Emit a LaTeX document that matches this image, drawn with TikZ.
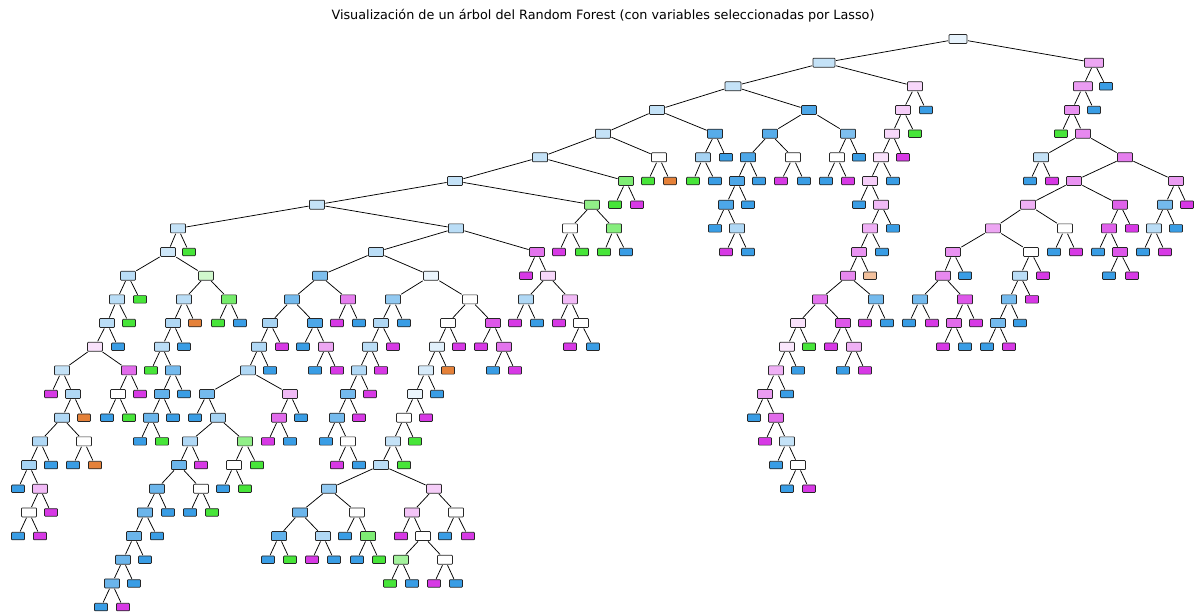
\documentclass[tikz,border=0pt]{standalone}
\usepackage{fontspec}
\setmainfont{DejaVu Sans}
\definecolor{cOr}{HTML}{E58139}
\definecolor{cGr}{HTML}{47E539}
\definecolor{cBl}{HTML}{399DE5}
\definecolor{cMg}{HTML}{D739E5}
% internal node: [width]{depth}{x}{fill}
\newcommand\innode[4][15]{\node[inn, minimum width=#1pt, fill=#4] (n#2-#3) at (#3,{39+23.67*#2}) {};}
% leaf node: {depth}{x}{fill}
\newcommand\leafnode[3]{\node[lf, fill=#3] (n#1-#2) at (#2,{39+23.67*#1}) {};}
% parent with its two children
\newcommand\branch[3]{\draw[edge] (#1) -- (#2); \draw[edge] (#1) -- (#3);}
\begin{document}
\begin{tikzpicture}[x=1pt,y=-1pt,
  inn/.style={draw=black!85, line width=0.7pt, rounded corners=0.8pt, minimum height=9pt, inner sep=0pt},
  lf/.style={draw=black!85, line width=0.7pt, rounded corners=0.8pt, minimum width=13pt, minimum height=7.5pt, inner sep=0pt},
  edge/.style={draw=black, line width=0.75pt, shorten >=0.6pt, shorten <=0.6pt}]
\useasboundingbox (0,0) rectangle (1197,612);
\fill[white] (0,0) rectangle (1197,612);
\node[font=\fontsize{12.8}{14}\selectfont] (title) at (603,16) {Visualización de un árbol del Random Forest (con variables seleccionadas por Lasso)};
% depth 0-4
\innode[18]{0}{958}{cBl!12}
\innode[22]{1}{824}{cBl!30} \innode[19]{1}{1094}{cMg!45}
\innode[16]{2}{733}{cBl!30} \innode{2}{915}{cMg!20} \innode[19]{2}{1083}{cMg!50} \leafnode{2}{1106}{cBl}
\innode{3}{657}{cBl!30} \innode{3}{809}{cBl!90} \innode{3}{903}{cMg!25} \leafnode{3}{926}{cBl} \innode{3}{1072}{cMg!55} \leafnode{3}{1094}{cBl}
\innode{4}{603}{cBl!30} \innode{4}{715}{cBl!85} \innode{4}{770}{cBl!85} \innode{4}{848}{cBl!65} \innode{4}{892}{cMg!20} \leafnode{4}{915}{cGr} \leafnode{4}{1061}{cGr} \innode{4}{1083}{cMg!60}
% depth 5
\innode{5}{540}{cBl!30} \innode{5}{659}{white} \innode{5}{703}{cBl!45} \leafnode{5}{726}{cBl} \innode{5}{748}{cBl!90} \innode{5}{793}{white} \innode{5}{837}{white} \leafnode{5}{859}{cBl} \innode{5}{881}{cMg!15} \leafnode{5}{903}{cMg} \innode{5}{1041}{cBl!30} \innode{5}{1125}{cMg!65}
% depth 6
\innode{6}{455}{cBl!30} \innode{6}{626}{cGr!70} \leafnode{6}{648}{cGr} \leafnode{6}{670}{cOr} \leafnode{6}{693}{cGr} \leafnode{6}{715}{cBl} \innode{6}{737}{cBl!90} \leafnode{6}{759}{cBl} \leafnode{6}{781}{cMg} \leafnode{6}{804}{cBl} \leafnode{6}{826}{cBl} \leafnode{6}{848}{cMg} \innode{6}{870}{cMg!25} \leafnode{6}{893}{cBl} \leafnode{6}{1030}{cBl} \leafnode{6}{1052}{cMg} \innode{6}{1074}{cMg!55} \innode{6}{1176}{cMg!50}
% depth 7
\innode{7}{317}{cBl!30} \innode{7}{592}{cGr!60} \leafnode{7}{615}{cGr} \leafnode{7}{637}{cMg} \innode{7}{726}{cBl!90} \leafnode{7}{748}{cBl} \leafnode{7}{859}{cBl} \innode{7}{881}{cMg!35} \innode{7}{1028}{cMg!40} \innode{7}{1120}{cMg!80} \innode{7}{1165}{cBl!70} \leafnode{7}{1187}{cMg}
% depth 8
\innode{8}{178}{cBl!30} \innode{8}{456}{cBl!35} \innode{8}{570}{white} \innode{8}{614}{cGr!65} \leafnode{8}{715}{cBl} \innode{8}{737}{cBl!40} \innode{8}{870}{cMg!40} \leafnode{8}{893}{cBl} \innode{8}{993}{cMg!45} \innode{8}{1065}{white} \innode{8}{1109}{cMg!80} \leafnode{8}{1132}{cMg} \innode{8}{1154}{cBl!35} \leafnode{8}{1176}{cBl}
% depth 9
\innode{9}{168}{cBl!25} \leafnode{9}{189}{cGr} \innode{9}{376}{cBl!35} \innode{9}{537}{cMg!70} \leafnode{9}{559}{cMg} \leafnode{9}{582}{cGr} \leafnode{9}{604}{cGr} \leafnode{9}{626}{cBl} \leafnode{9}{726}{cMg} \leafnode{9}{748}{cBl} \innode{9}{859}{cMg!55} \leafnode{9}{882}{cBl} \innode{9}{953}{cMg!55} \innode{9}{1031}{white} \leafnode{9}{1054}{cBl} \leafnode{9}{1076}{cMg} \leafnode{9}{1098}{cBl} \innode{9}{1120}{cMg!85} \leafnode{9}{1143}{cBl} \leafnode{9}{1165}{cMg}
% depth 10
\innode{10}{128}{cBl!35} \innode{10}{206}{cGr!25} \innode{10}{320}{cBl!65} \innode{10}{431}{cBl!10} \leafnode{10}{526}{cMg} \innode{10}{548}{cMg!20} \innode{10}{848}{cMg!60} \leafnode{10}{870}{cOr!50} \innode{10}{943}{cMg!60} \leafnode{10}{965}{cBl} \innode{10}{1020}{cBl!35} \leafnode{10}{1043}{cMg} \leafnode{10}{1109}{cBl} \leafnode{10}{1132}{cMg}
% depth 11
\innode{11}{117}{cBl!35} \leafnode{11}{140}{cGr} \innode{11}{184}{cBl!35} \innode{11}{229}{cGr!75} \innode{11}{292}{cBl!70} \innode{11}{348}{cMg!65} \innode{11}{393}{cBl!55} \innode{11}{470}{white} \innode{11}{526}{cBl!40} \innode{11}{570}{cMg!35} \innode{11}{820}{cMg!70} \innode{11}{876}{cBl!70} \innode{11}{920}{cBl!70} \innode{11}{965}{cMg!85} \innode{11}{1009}{cBl!70} \leafnode{11}{1032}{cMg}
% depth 12
\innode{12}{107}{cBl!35} \leafnode{12}{129}{cGr} \innode{12}{173}{cBl!40} \leafnode{12}{195}{cOr} \leafnode{12}{218}{cGr} \leafnode{12}{240}{cBl} \innode{12}{270}{cBl!45} \innode{12}{315}{cBl!90} \leafnode{12}{337}{cMg} \leafnode{12}{359}{cBl} \innode{12}{381}{cBl!40} \leafnode{12}{404}{cBl} \innode{12}{448}{white} \innode{12}{493}{cMg!85} \leafnode{12}{515}{cMg} \leafnode{12}{537}{cBl} \leafnode{12}{559}{cMg} \innode{12}{581}{white} \innode{12}{798}{cMg!15} \innode{12}{843}{cMg!85} \leafnode{12}{865}{cMg} \leafnode{12}{887}{cBl} \leafnode{12}{909}{cBl} \leafnode{12}{932}{cMg} \innode{12}{954}{cMg!75} \leafnode{12}{976}{cMg} \innode{12}{998}{cBl!70} \leafnode{12}{1020}{cBl}
% depth 13
\innode{13}{95}{cMg!15} \leafnode{13}{118}{cBl} \innode{13}{162}{cBl!35} \leafnode{13}{184}{cBl} \innode{13}{259}{cBl!40} \leafnode{13}{282}{cMg} \leafnode{13}{303}{cBl} \innode{13}{326}{cMg!45} \innode{13}{370}{cBl!35} \leafnode{13}{393}{cMg} \innode{13}{437}{cBl!15} \leafnode{13}{459}{cMg} \leafnode{13}{481}{cMg} \innode{13}{504}{cMg!70} \leafnode{13}{570}{cMg} \leafnode{13}{593}{cBl} \innode{13}{787}{cMg!12} \leafnode{13}{809}{cGr} \leafnode{13}{831}{cMg} \innode{13}{854}{cMg!40} \leafnode{13}{943}{cMg} \leafnode{13}{965}{cBl} \leafnode{13}{987}{cBl} \leafnode{13}{1009}{cMg}
% depth 14
\innode{14}{62}{cBl!30} \innode{14}{129}{cMg!75} \leafnode{14}{151}{cGr} \innode{14}{173}{cBl!70} \innode{14}{248}{cBl!40} \leafnode{14}{270}{cBl} \leafnode{14}{315}{cBl} \leafnode{14}{337}{cMg} \innode{14}{359}{cBl!40} \leafnode{14}{381}{cMg} \innode{14}{426}{cBl!20} \leafnode{14}{448}{cOr} \leafnode{14}{493}{cBl} \leafnode{14}{515}{cMg} \innode{14}{776}{cMg!40} \leafnode{14}{798}{cBl} \leafnode{14}{843}{cBl} \leafnode{14}{865}{cMg}
% depth 15
\leafnode{15}{51}{cMg} \innode{15}{73}{cBl!40} \innode{15}{118}{white} \leafnode{15}{140}{cMg} \innode{15}{162}{cBl!80} \leafnode{15}{184}{cBl} \innode{15}{207}{cBl!70} \innode{15}{290}{cMg!35} \innode{15}{348}{cBl!70} \leafnode{15}{370}{cMg} \innode{15}{415}{cBl!10} \leafnode{15}{437}{cBl} \innode{15}{765}{cMg!50} \leafnode{15}{787}{cBl}
% depth 16
\innode{16}{62}{cBl!40} \leafnode{16}{84}{cOr} \leafnode{16}{107}{cBl} \leafnode{16}{129}{cGr} \innode{16}{151}{cBl!75} \leafnode{16}{173}{cBl} \leafnode{16}{195}{cBl} \innode{16}{218}{cBl!45} \innode{16}{279}{cMg!75} \leafnode{16}{301}{cBl} \innode{16}{337}{cBl!70} \leafnode{16}{359}{cMg} \innode{16}{404}{white} \leafnode{16}{426}{cMg} \leafnode{16}{754}{cBl} \innode{16}{776}{cMg!75}
% depth 17
\innode{17}{40}{cBl!40} \innode{17}{84}{white} \leafnode{17}{140}{cBl} \leafnode{17}{162}{cGr} \innode{17}{190}{cBl!40} \innode{17}{245}{cGr!60} \leafnode{17}{268}{cMg} \leafnode{17}{290}{cBl} \leafnode{17}{326}{cBl} \innode{17}{348}{white} \innode{17}{393}{cBl!30} \leafnode{17}{415}{cGr} \leafnode{17}{765}{cMg} \innode{17}{787}{cBl!30}
% depth 18
\innode{18}{29}{cBl!45} \leafnode{18}{51}{cBl} \leafnode{18}{73}{cBl} \leafnode{18}{95}{cOr} \innode{18}{179}{cBl!75} \leafnode{18}{201}{cMg} \innode{18}{234}{white} \leafnode{18}{257}{cGr} \leafnode{18}{337}{cMg} \leafnode{18}{359}{cBl} \innode{18}{381}{cBl!35} \leafnode{18}{404}{cGr} \leafnode{18}{776}{cBl} \innode{18}{798}{white}
% depth 19
\leafnode{19}{18}{cBl} \innode{19}{40}{cMg!35} \innode{19}{157}{cBl!75} \innode{19}{201}{white} \leafnode{19}{223}{cBl} \leafnode{19}{245}{cGr} \innode{19}{329}{cBl!55} \innode{19}{434}{cMg!25} \leafnode{19}{787}{cBl} \leafnode{19}{809}{cMg}
% depth 20
\innode{20}{29}{white} \leafnode{20}{51}{cMg} \innode{20}{145}{cBl!75} \leafnode{20}{168}{cBl} \leafnode{20}{190}{cBl} \leafnode{20}{212}{cGr} \innode{20}{300}{cBl!75} \innode{20}{357}{white} \innode{20}{412}{cMg!30} \innode{20}{456}{white}
% depth 21
\leafnode{21}{18}{cBl} \leafnode{21}{40}{cMg} \innode{21}{134}{cBl!75} \leafnode{21}{157}{cBl} \innode{21}{279}{cBl!80} \innode{21}{323}{cBl!40} \leafnode{21}{345}{cBl} \innode{21}{368}{cGr!70} \leafnode{21}{401}{cMg} \innode{21}{423}{white} \leafnode{21}{445}{cBl} \leafnode{21}{468}{cMg}
% depth 22
\innode{22}{123}{cBl!75} \leafnode{22}{145}{cBl} \leafnode{22}{268}{cBl} \leafnode{22}{290}{cGr} \leafnode{22}{312}{cMg} \leafnode{22}{334}{cBl} \leafnode{22}{357}{cBl} \leafnode{22}{379}{cGr} \innode{22}{401}{cGr!50} \innode{22}{445}{white}
% depth 23-24
\innode{23}{112}{cBl!75} \leafnode{23}{134}{cBl} \leafnode{23}{390}{cGr} \leafnode{23}{412}{cBl} \leafnode{23}{434}{cMg} \leafnode{23}{456}{cBl}
\leafnode{24}{101}{cBl} \leafnode{24}{123}{cMg}
% connectors
\branch{n0-958}{n1-824}{n1-1094}
\branch{n1-824}{n2-733}{n2-915}
\branch{n1-1094}{n2-1083}{n2-1106}
\branch{n2-733}{n3-657}{n3-809}
\branch{n2-915}{n3-903}{n3-926}
\branch{n2-1083}{n3-1072}{n3-1094}
\branch{n3-657}{n4-603}{n4-715}
\branch{n3-809}{n4-770}{n4-848}
\branch{n3-903}{n4-892}{n4-915}
\branch{n3-1072}{n4-1061}{n4-1083}
\branch{n4-603}{n5-540}{n5-659}
\branch{n4-715}{n5-703}{n5-726}
\branch{n4-770}{n5-748}{n5-793}
\branch{n4-848}{n5-837}{n5-859}
\branch{n4-892}{n5-881}{n5-903}
\branch{n4-1083}{n5-1041}{n5-1125}
\branch{n5-540}{n6-455}{n6-626}
\branch{n5-659}{n6-648}{n6-670}
\branch{n5-703}{n6-693}{n6-715}
\branch{n5-748}{n6-737}{n6-759}
\branch{n5-793}{n6-781}{n6-804}
\branch{n5-837}{n6-826}{n6-848}
\branch{n5-881}{n6-870}{n6-893}
\branch{n5-1041}{n6-1030}{n6-1052}
\branch{n5-1125}{n6-1074}{n6-1176}
\branch{n6-455}{n7-317}{n7-592}
\branch{n6-626}{n7-615}{n7-637}
\branch{n6-737}{n7-726}{n7-748}
\branch{n6-870}{n7-859}{n7-881}
\branch{n6-1074}{n7-1028}{n7-1120}
\branch{n6-1176}{n7-1165}{n7-1187}
\branch{n7-317}{n8-178}{n8-456}
\branch{n7-592}{n8-570}{n8-614}
\branch{n7-726}{n8-715}{n8-737}
\branch{n7-881}{n8-870}{n8-893}
\branch{n7-1028}{n8-993}{n8-1065}
\branch{n7-1120}{n8-1109}{n8-1132}
\branch{n7-1165}{n8-1154}{n8-1176}
\branch{n8-178}{n9-168}{n9-189}
\branch{n8-456}{n9-376}{n9-537}
\branch{n8-570}{n9-559}{n9-582}
\branch{n8-614}{n9-604}{n9-626}
\branch{n8-737}{n9-726}{n9-748}
\branch{n8-870}{n9-859}{n9-882}
\branch{n8-993}{n9-953}{n9-1031}
\branch{n8-1065}{n9-1054}{n9-1076}
\branch{n8-1109}{n9-1098}{n9-1120}
\branch{n8-1154}{n9-1143}{n9-1165}
\branch{n9-168}{n10-128}{n10-206}
\branch{n9-376}{n10-320}{n10-431}
\branch{n9-537}{n10-526}{n10-548}
\branch{n9-859}{n10-848}{n10-870}
\branch{n9-953}{n10-943}{n10-965}
\branch{n9-1031}{n10-1020}{n10-1043}
\branch{n9-1120}{n10-1109}{n10-1132}
\branch{n10-128}{n11-117}{n11-140}
\branch{n10-206}{n11-184}{n11-229}
\branch{n10-320}{n11-292}{n11-348}
\branch{n10-431}{n11-393}{n11-470}
\branch{n10-548}{n11-526}{n11-570}
\branch{n10-848}{n11-820}{n11-876}
\branch{n10-943}{n11-920}{n11-965}
\branch{n10-1020}{n11-1009}{n11-1032}
\branch{n11-117}{n12-107}{n12-129}
\branch{n11-184}{n12-173}{n12-195}
\branch{n11-229}{n12-218}{n12-240}
\branch{n11-292}{n12-270}{n12-315}
\branch{n11-348}{n12-337}{n12-359}
\branch{n11-393}{n12-381}{n12-404}
\branch{n11-470}{n12-448}{n12-493}
\branch{n11-526}{n12-515}{n12-537}
\branch{n11-570}{n12-559}{n12-581}
\branch{n11-820}{n12-798}{n12-843}
\branch{n11-876}{n12-865}{n12-887}
\branch{n11-920}{n12-909}{n12-932}
\branch{n11-965}{n12-954}{n12-976}
\branch{n11-1009}{n12-998}{n12-1020}
\branch{n12-107}{n13-95}{n13-118}
\branch{n12-173}{n13-162}{n13-184}
\branch{n12-270}{n13-259}{n13-282}
\branch{n12-315}{n13-303}{n13-326}
\branch{n12-381}{n13-370}{n13-393}
\branch{n12-448}{n13-437}{n13-459}
\branch{n12-493}{n13-481}{n13-504}
\branch{n12-581}{n13-570}{n13-593}
\branch{n12-798}{n13-787}{n13-809}
\branch{n12-843}{n13-831}{n13-854}
\branch{n12-954}{n13-943}{n13-965}
\branch{n12-998}{n13-987}{n13-1009}
\branch{n13-95}{n14-62}{n14-129}
\branch{n13-162}{n14-151}{n14-173}
\branch{n13-259}{n14-248}{n14-270}
\branch{n13-326}{n14-315}{n14-337}
\branch{n13-370}{n14-359}{n14-381}
\branch{n13-437}{n14-426}{n14-448}
\branch{n13-504}{n14-493}{n14-515}
\branch{n13-787}{n14-776}{n14-798}
\branch{n13-854}{n14-843}{n14-865}
\branch{n14-62}{n15-51}{n15-73}
\branch{n14-129}{n15-118}{n15-140}
\branch{n14-173}{n15-162}{n15-184}
\branch{n14-248}{n15-207}{n15-290}
\branch{n14-359}{n15-348}{n15-370}
\branch{n14-426}{n15-415}{n15-437}
\branch{n14-776}{n15-765}{n15-787}
\branch{n15-73}{n16-62}{n16-84}
\branch{n15-118}{n16-107}{n16-129}
\branch{n15-162}{n16-151}{n16-173}
\branch{n15-207}{n16-195}{n16-218}
\branch{n15-290}{n16-279}{n16-301}
\branch{n15-348}{n16-337}{n16-359}
\branch{n15-415}{n16-404}{n16-426}
\branch{n15-765}{n16-754}{n16-776}
\branch{n16-62}{n17-40}{n17-84}
\branch{n16-151}{n17-140}{n17-162}
\branch{n16-218}{n17-190}{n17-245}
\branch{n16-279}{n17-268}{n17-290}
\branch{n16-337}{n17-326}{n17-348}
\branch{n16-404}{n17-393}{n17-415}
\branch{n16-776}{n17-765}{n17-787}
\branch{n17-40}{n18-29}{n18-51}
\branch{n17-84}{n18-73}{n18-95}
\branch{n17-190}{n18-179}{n18-201}
\branch{n17-245}{n18-234}{n18-257}
\branch{n17-348}{n18-337}{n18-359}
\branch{n17-393}{n18-381}{n18-404}
\branch{n17-787}{n18-776}{n18-798}
\branch{n18-29}{n19-18}{n19-40}
\branch{n18-179}{n19-157}{n19-201}
\branch{n18-234}{n19-223}{n19-245}
\branch{n18-381}{n19-329}{n19-434}
\branch{n18-798}{n19-787}{n19-809}
\branch{n19-40}{n20-29}{n20-51}
\branch{n19-157}{n20-145}{n20-168}
\branch{n19-201}{n20-190}{n20-212}
\branch{n19-329}{n20-300}{n20-357}
\branch{n19-434}{n20-412}{n20-456}
\branch{n20-29}{n21-18}{n21-40}
\branch{n20-145}{n21-134}{n21-157}
\branch{n20-300}{n21-279}{n21-323}
\branch{n20-357}{n21-345}{n21-368}
\branch{n20-412}{n21-401}{n21-423}
\branch{n20-456}{n21-445}{n21-468}
\branch{n21-134}{n22-123}{n22-145}
\branch{n21-279}{n22-268}{n22-290}
\branch{n21-323}{n22-312}{n22-334}
\branch{n21-368}{n22-357}{n22-379}
\branch{n21-423}{n22-401}{n22-445}
\branch{n22-123}{n23-112}{n23-134}
\branch{n22-401}{n23-390}{n23-412}
\branch{n22-445}{n23-434}{n23-456}
\branch{n23-112}{n24-101}{n24-123}
\end{tikzpicture}
\end{document}
